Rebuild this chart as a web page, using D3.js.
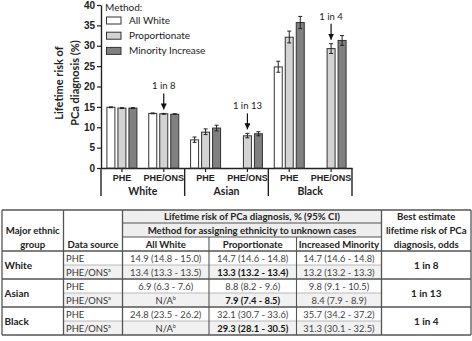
<!DOCTYPE html>
<html><head><meta charset="utf-8">
<script src="https://cdn.jsdelivr.net/npm/d3@7"></script>
<style>
html,body{margin:0;padding:0;background:#fff;}
svg{display:block;font-family:Lato,"Open Sans",sans-serif;}
</style></head>
<body><svg id="c" width="472" height="341"></svg>
<script>
// ---------- DATA ----------
const groups = ["White", "Asian", "Black"];
const sources = ["PHE", "PHE/ONS"];
const methods = ["All White", "Proportionate", "Minority Increase"];
const tableMethods = ["All White", "Proportionate", "Increased Minority"];
// categories in order: White PHE, White PHE/ONS, Asian PHE, Asian PHE/ONS, Black PHE, Black PHE/ONS
const allWhiteVal = [14.9, 13.4, 6.9, null, 24.8, null];
const allWhiteLo  = [14.8, 13.3, 6.3, null, 23.5, null];
const allWhiteHi  = [15.0, 13.5, 7.6, null, 26.2, null];
const propVal = [14.7, 13.3, 8.8, 7.9, 32.1, 29.3];
const propLo  = [14.6, 13.2, 8.2, 7.4, 30.7, 28.1];
const propHi  = [14.8, 13.4, 9.6, 8.5, 33.6, 30.5];
const minVal = [14.7, 13.2, 9.8, 8.4, 35.7, 31.3];
const minLo  = [14.6, 13.2, 9.1, 7.9, 34.2, 30.1];
const minHi  = [14.8, 13.3, 10.5, 8.9, 37.2, 32.5];
const yTicks = [0, 5, 10, 15, 20, 25, 30, 35, 40];
const bestOdds = ["1 in 8", "1 in 13", "1 in 4"];
const annotCats = [1, 3, 5];          // category index of arrow (Proportionate bar)
const boldCats = [1, 3, 5];           // bold Proportionate cell in table

// ---------- SETUP ----------
const svg = d3.select("#c");
const series = [
  {name: methods[0], val: allWhiteVal, lo: allWhiteLo, hi: allWhiteHi, fill: "#ffffff"},
  {name: methods[1], val: propVal, lo: propLo, hi: propHi, fill: "#d3d3d3"},
  {name: methods[2], val: minVal, lo: minLo, hi: minHi, fill: "#808080"}
];
const cats = d3.range(groups.length * sources.length);
const x = d3.scaleBand().domain(cats).range([101, 352]).padding(0);
const xm = d3.scaleBand().domain(methods).range([-15, 15]).paddingInner(3/11).paddingOuter(0);
const y = d3.scaleLinear().domain([0, 40]).range([168, 5]);

// Y axis
const yAxis = svg.append("g").attr("transform", "translate(101,0)")
  .call(d3.axisLeft(y).tickValues(yTicks).tickSize(4).tickPadding(2).tickSizeOuter(0));
yAxis.selectAll("text").attr("font-size", 10).attr("font-weight", "bold").attr("fill", "#222");
yAxis.selectAll("line").attr("stroke", "#222").attr("stroke-width", 1.2);
yAxis.select(".domain").attr("stroke", "#222").attr("stroke-width", 1.4);

// Y title
const yt = svg.append("text").attr("transform", "translate(0,83) rotate(-90)")
  .attr("text-anchor", "middle").attr("font-size", 11).attr("font-weight", "bold").attr("fill", "#222");
yt.append("tspan").attr("x", 0).attr("y", 63).text("Lifetime risk of");
yt.append("tspan").attr("x", 0).attr("y", 79).text("PCa diagnosis (%)");

// X axis
const xAxis = svg.append("g").attr("transform", "translate(0,168)")
  .call(d3.axisBottom(x).tickSize(4).tickPadding(3).tickSizeOuter(0)
    .tickFormat(i => sources[i % sources.length]));
xAxis.selectAll("text").attr("font-size", 9).attr("font-weight", "bold").attr("fill", "#222");
xAxis.selectAll("line").attr("stroke", "#222").attr("stroke-width", 1.2);
xAxis.select(".domain").attr("stroke", "#222").attr("stroke-width", 1.4);

// group separators and labels
const sepX = groups.map((g, i) => x(i * 2)).concat([x(cats.length - 1) + x.bandwidth()]);
svg.append("g").selectAll("line").data(sepX).join("line")
  .attr("x1", d => d).attr("x2", d => d).attr("y1", 168).attr("y2", 196)
  .attr("stroke", "#222").attr("stroke-width", 1.4);
svg.append("g").selectAll("text").data(groups).join("text")
  .attr("x", (d, i) => x(i * 2) + x.bandwidth())
  .attr("y", 194.5).attr("text-anchor", "middle")
  .attr("font-size", 10.5).attr("font-weight", "bold").attr("fill", "#222").text(d => d);

// Bars
const barG = svg.append("g");
series.forEach(s => {
  const pts = cats.filter(i => s.val[i] != null);
  barG.append("g").selectAll("rect").data(pts).join("rect")
    .attr("x", i => x(i) + x.bandwidth() / 2 + xm(s.name))
    .attr("width", xm.bandwidth())
    .attr("y", i => y(s.val[i]))
    .attr("height", i => y(0) - y(s.val[i]))
    .attr("fill", s.fill).attr("stroke", "#333").attr("stroke-width", 1);
  const eg = barG.append("g").attr("stroke", "#222").attr("stroke-width", 1);
  pts.forEach(i => {
    const cx = x(i) + x.bandwidth() / 2 + xm(s.name) + xm.bandwidth() / 2;
    eg.append("line").attr("x1", cx).attr("x2", cx).attr("y1", y(s.lo[i])).attr("y2", y(s.hi[i]));
    eg.append("line").attr("x1", cx - 2).attr("x2", cx + 2).attr("y1", y(s.lo[i])).attr("y2", y(s.lo[i]));
    eg.append("line").attr("x1", cx - 2).attr("x2", cx + 2).attr("y1", y(s.hi[i])).attr("y2", y(s.hi[i]));
  });
});

// Annotations
svg.append("defs").append("marker").attr("id", "ah").attr("viewBox", "0 0 10 10")
  .attr("refX", 10).attr("refY", 5).attr("markerWidth", 6).attr("markerHeight", 6)
  .attr("orient", "auto").attr("markerUnits", "userSpaceOnUse")
  .append("path").attr("d", "M0,0 L10,5 L0,10 z").attr("fill", "#111");
annotCats.forEach((c, gi) => {
  const cx = x(c) + x.bandwidth() / 2 + xm(methods[1]) + xm.bandwidth() / 2;
  const top = y(propHi[c]);
  svg.append("line").attr("x1", cx).attr("x2", cx).attr("y1", top - 20).attr("y2", top - 4)
    .attr("stroke", "#111").attr("stroke-width", 1.2).attr("marker-end", "url(#ah)");
  svg.append("text").attr("x", cx).attr("y", top - 24).attr("text-anchor", "middle")
    .attr("font-size", 9.5).attr("fill", "#222").text(bestOdds[gi]);
});

// Legend
const lg = svg.append("g").attr("font-size", 10).attr("fill", "#222");
lg.append("text").attr("x", 105).attr("y", 11).text("Method:");
series.forEach((s, i) => {
  const cy = 20.5 + i * 15.2;
  lg.append("rect").attr("x", 106.5).attr("y", cy - 3.5).attr("width", 14.5).attr("height", 7)
    .attr("fill", s.fill).attr("stroke", "#333").attr("stroke-width", 1);
  lg.append("text").attr("x", 129).attr("y", cy + 3.5).text(s.name);
});

// ---------- TABLE ----------
const colX = [2, 63.5, 122.5, 209, 296.5, 381.5, 471];
const hdrY = [210, 223, 237, 251];
const rowH = 14;
const bodyTop = 251;
const tg = svg.append("g");
const fmt = (v, lo, hi) => v == null ? null : `${v.toFixed(1)} (${lo.toFixed(1)} - ${hi.toFixed(1)})`;

// shading
tg.append("rect").attr("x", colX[2]).attr("y", hdrY[0]).attr("width", colX[5] - colX[2])
  .attr("height", hdrY[2] - hdrY[0]).attr("fill", "#eeeeee");
groups.forEach((g, gi) => {
  tg.append("rect").attr("x", colX[1]).attr("y", bodyTop + gi * 2 * rowH + rowH)
    .attr("width", colX[5] - colX[1]).attr("height", rowH).attr("fill", "#f1f1f1");
});

// lines
const L = (x1, y1, x2, y2, c, w) => tg.append("line").attr("x1", x1).attr("y1", y1)
  .attr("x2", x2).attr("y2", y2).attr("stroke", c).attr("stroke-width", w);
const dark = "#555";
L(colX[0], hdrY[0], colX[6], hdrY[0], dark, 1.3);
L(colX[2], hdrY[1], colX[5], hdrY[1], dark, 1.1);
L(colX[2], hdrY[2], colX[5], hdrY[2], dark, 1.1);
L(colX[0], hdrY[3], colX[6], hdrY[3], dark, 1.3);
groups.forEach((g, gi) => {
  const yb = bodyTop + (gi + 1) * 2 * rowH;
  L(colX[0], yb, colX[6], yb, dark, 1.3);
  L(colX[1], yb - rowH, colX[5], yb - rowH, "#aaa", 0.8);
});
[0, 1, 2, 5, 6].forEach(ci => L(colX[ci], hdrY[0], colX[ci], bodyTop + 6 * rowH, dark, 1.3));
[3, 4].forEach(ci => L(colX[ci], hdrY[2], colX[ci], bodyTop + 6 * rowH, dark, 1.1));

// header texts
const T = (tx, ty, str, opts = {}) => tg.append("text").attr("x", tx).attr("y", ty)
  .attr("text-anchor", opts.anchor || "middle").attr("font-size", opts.size || 9.6)
  .attr("font-weight", opts.bold ? "bold" : "normal").attr("fill", opts.fill || "#222").text(str);
const mid = (a, b) => (colX[a] + colX[b]) / 2;
T(mid(0, 1), 233.5, "Major ethnic", {bold: true});
T(mid(0, 1), 248, "group", {bold: true});
T(mid(1, 2), 248, "Data source", {bold: true});
T(mid(2, 5), 220, "Lifetime risk of PCa diagnosis, % (95% CI)", {bold: true});
T(mid(2, 5), 233.5, "Method for assigning ethnicity to unknown cases", {bold: true});
tableMethods.forEach((m, i) => T(mid(2 + i, 3 + i), 248, m, {bold: true}));
T(mid(5, 6), 220, "Best estimate", {bold: true});
T(mid(5, 6), 233.5, "lifetime risk of PCa", {bold: true});
T(mid(5, 6), 248, "diagnosis, odds", {bold: true});

// body
groups.forEach((g, gi) => {
  const gy = bodyTop + gi * 2 * rowH;
  T(colX[0] + 2.5, gy + rowH + 3.5, g, {bold: true, anchor: "start", size: 10});
  T(mid(5, 6), gy + rowH + 3.5, bestOdds[gi], {bold: true, size: 10});
  sources.forEach((s, si) => {
    const ci = gi * 2 + si;
    const ty = gy + si * rowH + 10.5;
    const st = T(colX[1] + 2.5, ty, s, {anchor: "start", fill: "#333", size: 9.4});
    if (si === 1) st.append("tspan").attr("dy", -3.5).attr("font-size", 5.5).text("a");
    series.forEach((ser, k) => {
      const str = fmt(ser.val[ci], ser.lo[ci], ser.hi[ci]);
      const bold = k === 1 && boldCats.includes(ci);
      if (str == null) {
        const t = T(mid(2 + k, 3 + k), ty, "N/A", {fill: "#333", size: 9.4});
        t.append("tspan").attr("dy", -3.5).attr("font-size", 5.5).text("b");
      } else {
        T(mid(2 + k, 3 + k), ty, str, {bold: bold, fill: bold ? "#111" : "#444", size: 9.4});
      }
    });
  });
});
</script></body></html>
